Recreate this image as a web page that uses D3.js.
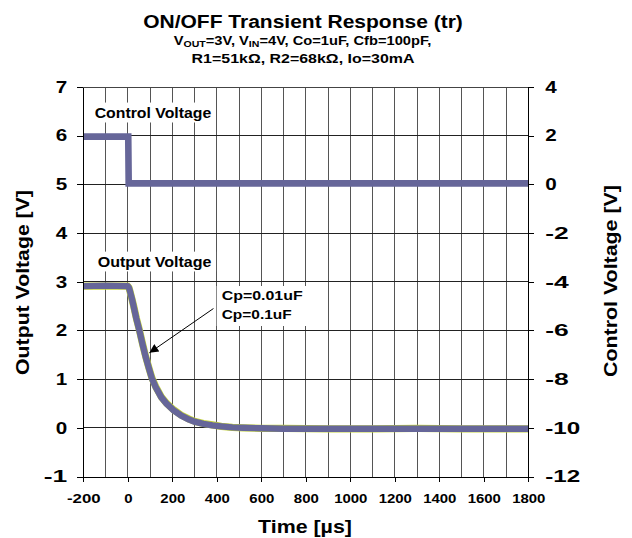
<!DOCTYPE html>
<html>
<head>
<meta charset="utf-8">
<script src="https://cdn.jsdelivr.net/npm/d3@7"></script>
<style>
  html, body { margin: 0; padding: 0; background: #fff; }
  svg text { font-family: "Liberation Sans", Arial, sans-serif; font-weight: bold; fill: #000; }
</style>
</head>
<body>
<svg id="chart" width="632" height="538"></svg>
<script>
// ---- measured traces ----
// time base shared by both output-voltage traces (µs)
const timeUs = [-200, -100, 0, 5, 10, 18, 26, 38, 52, 65, 80, 95, 108, 125, 150, 175, 206,
                240, 275, 303, 340, 380, 420, 470, 520, 600, 700, 900, 1100, 1300, 1500, 1700, 1800];
// output voltage, Cp = 0.1uF (V)
const voutCp01 = [2.91, 2.92, 2.91, 2.88, 2.80, 2.66, 2.50, 2.25, 2.00, 1.74, 1.46, 1.22, 1.02, 0.84, 0.63, 0.49, 0.36,
                  0.25, 0.17, 0.12, 0.08, 0.05, 0.03, 0.01, 0.00, -0.01, -0.02, -0.02, -0.02, -0.02, -0.02, -0.02, -0.02];
// output voltage, Cp = 0.01uF (V)
const voutCp001 = [2.91, 2.91, 2.91, 2.88, 2.80, 2.66, 2.51, 2.26, 2.01, 1.75, 1.47, 1.23, 1.03, 0.85, 0.64, 0.50, 0.37,
                   0.26, 0.18, 0.13, 0.09, 0.06, 0.03, 0.01, 0.00, -0.01, -0.01, -0.02, -0.02, -0.01, -0.02, -0.02, -0.02];
// control voltage step (right axis)
const ctrlTimeUs = [-200, 2, 4, 1800];
const ctrlV = [1.96, 1.96, 0.04, 0.04];

// ---- axes ----
const xTicks = [-200, 0, 200, 400, 600, 800, 1000, 1200, 1400, 1600, 1800];
const xGrid = [-100, 0, 100, 200, 300, 400, 500, 600, 700, 800, 900, 1000, 1100, 1200, 1300, 1400, 1500, 1600, 1700];
const leftTicks = [-1, 0, 1, 2, 3, 4, 5, 6, 7];
const rightTicks = [-12, -10, -8, -6, -4, -2, 0, 2, 4];

const svg = d3.select("#chart");
const box = { left: 83.3, right: 528.3, top: 87, bottom: 476.5 };

const x = d3.scaleLinear().domain([-200, 1800]).range([box.left, box.right]);
const yL = d3.scaleLinear().domain([-1, 7]).range([box.bottom, box.top]);
const yR = d3.scaleLinear().domain([-12, 4]).range([box.bottom, box.top]);

svg.append("rect").attr("width", 632).attr("height", 538).attr("fill", "#fff");

// gridlines
const grid = svg.append("g");
grid.selectAll("line.v").data(xGrid).join("line")
  .attr("x1", d => x(d)).attr("x2", d => x(d))
  .attr("y1", box.top).attr("y2", box.bottom)
  .attr("stroke", "#555").attr("stroke-width", 1).attr("shape-rendering", "crispEdges");
grid.selectAll("line.h").data(leftTicks.slice(1)).join("line")
  .attr("x1", box.left).attr("x2", box.right)
  .attr("y1", d => yL(d)).attr("y2", d => yL(d))
  .attr("stroke", "#222").attr("stroke-width", 1).attr("shape-rendering", "crispEdges");

// text helper: draws text at (px,py) and stretches it horizontally to a given width
function label(parent, opts) {
  const g = parent.append("g");
  const t = g.append("text")
    .attr("text-anchor", opts.anchor || "start")
    .style("font-size", opts.size + "px");
  if (opts.parts) {
    opts.parts.forEach(p => {
      const ts = t.append("tspan").text(p.text);
      if (p.sub) ts.style("font-size", (opts.size * 0.72) + "px").attr("dy", 2);
      if (p.after) ts.attr("dy", -2);
    });
  } else {
    t.text(opts.text);
  }
  const w = t.node().getBBox().width;
  const sx = opts.width ? opts.width / w : 1;
  let tr = `translate(${opts.x},${opts.y})`;
  if (opts.rotate) tr += ` rotate(${opts.rotate})`;
  tr += ` scale(${sx},1)`;
  g.attr("transform", tr);
  if (opts.bg) {
    const b = t.node().getBBox();
    g.insert("rect", "text")
      .attr("x", b.x - opts.bg[0]).attr("y", b.y - opts.bg[1])
      .attr("width", b.width + 2 * opts.bg[0]).attr("height", b.height + 2 * opts.bg[1])
      .attr("fill", "#fff");
  }
  return g;
}

// in-plot labels with white backing
const notes = svg.append("g");
label(notes, { x: x(-149), y: yL(6.37), text: "Control Voltage", size: 14, width: 117, bg: [4, 2] });
label(notes, { x: x(-135), y: yL(3.31), text: "Output Voltage", size: 14, width: 114, bg: [4, 2] });
const cpBg = notes.append("rect").attr("fill", "#fff");
const cp1 = label(notes, { x: x(422), y: yL(2.625), text: "Cp=0.01uF", size: 13.5, width: 81 });
const cp2 = label(notes, { x: x(422), y: yL(2.625) + 19.3, text: "Cp=0.1uF", size: 13.5, width: 70 });
cpBg.attr("x", x(422) - 5).attr("y", yL(2.625) - 14).attr("width", 91).attr("height", 40);

// traces
const traces = svg.append("g");
const lineOf = (xs, ys, yScale) => d3.line().x((d, i) => x(xs[i])).y(d => yScale(d))(ys);
traces.append("path").attr("d", lineOf(timeUs, voutCp001, yL))
  .attr("fill", "none").attr("stroke", "#c3d23c").attr("stroke-width", 7.2).attr("stroke-linejoin", "round");
traces.append("path").attr("d", lineOf(timeUs, voutCp01, yL))
  .attr("fill", "none").attr("stroke", "#666699").attr("stroke-width", 6.4).attr("stroke-linejoin", "round");
traces.append("path").attr("d", lineOf(ctrlTimeUs, ctrlV, yR))
  .attr("fill", "none").attr("stroke", "#666699").attr("stroke-width", 6.6).attr("stroke-linejoin", "miter");

// arrow pointing at the curves
svg.append("defs").append("marker")
  .attr("id", "head").attr("viewBox", "0 0 10 10").attr("refX", 10).attr("refY", 5)
  .attr("markerWidth", 11).attr("markerHeight", 9).attr("markerUnits", "userSpaceOnUse")
  .attr("orient", "auto")
  .append("path").attr("d", "M0,0 L10,5 L0,10 Z").attr("fill", "#000");
svg.append("line")
  .attr("x1", x(385)).attr("y1", yL(2.45)).attr("x2", x(97)).attr("y2", yL(1.54))
  .attr("stroke", "#000").attr("stroke-width", 1).attr("marker-end", "url(#head)");

// plot frame top
svg.append("line").attr("x1", box.left).attr("x2", box.right).attr("y1", box.top).attr("y2", box.top)
  .attr("stroke", "#444").attr("shape-rendering", "crispEdges");

// axes
function styleAxis(g, size, sx) {
  g.selectAll("path.domain").attr("stroke", "#000").attr("shape-rendering", "crispEdges");
  g.selectAll(".tick line").attr("stroke", "#000").attr("shape-rendering", "crispEdges");
  g.selectAll(".tick text")
    .attr("font-family", null).attr("font-size", null)
    .style("font-size", size + "px").style("font-weight", "bold")
    .each(function () {
      const L = this.getComputedTextLength();
      this.setAttribute("textLength", L * sx);
      this.setAttribute("lengthAdjust", "spacingAndGlyphs");
    });
}
const gL = svg.append("g").attr("transform", `translate(${box.left},0)`)
  .call(d3.axisLeft(yL).tickValues(leftTicks).tickSize(6).tickSizeOuter(0).tickPadding(10).tickFormat(d3.format("d")));
styleAxis(gL, 16.5, 1.25);
const gR = svg.append("g").attr("transform", `translate(${box.right},0)`)
  .call(d3.axisRight(yR).tickValues(rightTicks).tickSize(6).tickSizeOuter(0).tickPadding(11).tickFormat(d3.format("d")));
styleAxis(gR, 16.5, 1.25);
const gB = svg.append("g").attr("transform", `translate(0,${box.bottom})`)
  .call(d3.axisBottom(x).tickValues(xTicks).tickSize(5).tickSizeOuter(0).tickPadding(12.5).tickFormat(d3.format("d")));
styleAxis(gB, 13, 1.15);
[gL, gR, gB].forEach(g => g.selectAll(".tick text").text(function () { return this.textContent.replace("\u2212", "-"); }));

// titles
label(svg, { x: 303, y: 28.3, text: "ON/OFF Transient Response (tr)", size: 19, anchor: "middle", width: 320 });
label(svg, { x: 302.5, y: 45, size: 12.5, anchor: "middle", width: 258,
  parts: [{ text: "V" }, { text: "OUT", sub: true }, { text: "=3V, V", after: true },
          { text: "IN", sub: true }, { text: "=4V, Co=1uF, Cfb=100pF,", after: true }] });
label(svg, { x: 303, y: 63.3, text: "R1=51k\u03a9, R2=68k\u03a9, Io=30mA", size: 12.5, anchor: "middle", width: 223 });

// axis titles
label(svg, { x: 305, y: 533, text: "Time [\u00b5s]", size: 17.5, anchor: "middle", width: 94 });
label(svg, { x: 29, y: 282.5, text: "Output Voltage [V]", size: 17.5, anchor: "middle", width: 185, rotate: -90 });
label(svg, { x: 617, y: 281, text: "Control Voltage [V]", size: 17.5, anchor: "middle", width: 192, rotate: -90 });
</script>
</body>
</html>
